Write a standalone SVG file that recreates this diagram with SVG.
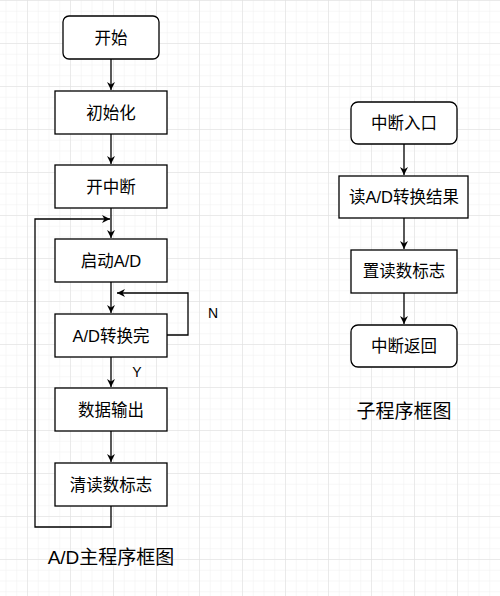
<svg xmlns="http://www.w3.org/2000/svg" width="500" height="596" viewBox="0 0 500 596">
<style>
.box{fill:#fff;stroke:#000;stroke-width:1.3}
.t{font-family:"Liberation Sans","Noto Sans CJK SC",sans-serif;font-size:16.5px;fill:#000;text-anchor:middle;dominant-baseline:central}
.cap{font-family:"Liberation Sans","Noto Sans CJK SC",sans-serif;font-size:19px;fill:#000;text-anchor:middle;dominant-baseline:central}
.lbl{font-family:"Liberation Sans","Noto Sans CJK SC",sans-serif;font-size:14px;fill:#000;text-anchor:middle;dominant-baseline:central}
.c{fill:none;stroke:#000;stroke-width:1.3}
</style>
<defs>
<pattern id="minor" patternUnits="userSpaceOnUse" x="27" y="0" width="10.75" height="10.75">
<path d="M0 0H10.75M0 0V10.75" fill="none" stroke="#f0f0f0" stroke-width="1"/>
</pattern>
<pattern id="major" patternUnits="userSpaceOnUse" x="27" y="0" width="43" height="43">
<path d="M0 0H43M0 0V43" fill="none" stroke="#dedede" stroke-width="1"/>
</pattern>
<marker id="arr" viewBox="0 0 10 10" refX="10" refY="5" markerWidth="8" markerHeight="8" markerUnits="userSpaceOnUse" orient="auto">
<path d="M0 0L10 5L0 10L3 5Z" fill="#000"/>
</marker>
</defs>
<rect width="500" height="596" fill="#fff"/>
<rect width="500" height="596" fill="url(#minor)"/>
<rect width="500" height="596" fill="url(#major)"/>

<g id="connectors">
<path class="c" d="M111 59V90" marker-end="url(#arr)"/>
<path class="c" d="M111 134V164" marker-end="url(#arr)"/>
<path class="c" d="M111 208V238" marker-end="url(#arr)"/>
<path class="c" d="M111 282V313" marker-end="url(#arr)"/>
<path class="c" d="M167 335H188V293H117" marker-end="url(#arr)"/>
<path class="c" d="M111 357V387" marker-end="url(#arr)"/>
<path class="c" d="M111 431V462" marker-end="url(#arr)"/>
<path class="c" d="M111 506V527H35V219H110" marker-end="url(#arr)"/>
<path class="c" d="M404 144V175" marker-end="url(#arr)"/>
<path class="c" d="M404 218V249" marker-end="url(#arr)"/>
<path class="c" d="M404 293V324" marker-end="url(#arr)"/>
<text class="lbl" x="213" y="313">N</text>
<text class="lbl" x="137" y="372">Y</text>
</g>

<g id="start"><rect class="box" x="63" y="16" width="96" height="43" rx="6"/><text class="t" x="111" y="38">开始</text></g>
<g id="init"><rect class="box" x="55" y="91" width="112" height="43"/><text class="t" x="111" y="113">初始化</text></g>
<g id="enable-int"><rect class="box" x="55" y="165" width="112" height="43"/><text class="t" x="111" y="187">开中断</text></g>
<g id="start-ad"><rect class="box" x="55" y="239" width="112" height="43"/><text class="t" x="111" y="261">启动A/D</text></g>
<g id="ad-done"><rect class="box" x="55" y="314" width="112" height="43"/><text class="t" x="111" y="336">A/D转换完</text></g>
<g id="output"><rect class="box" x="55" y="388" width="112" height="43"/><text class="t" x="111" y="410">数据输出</text></g>
<g id="clear-flag"><rect class="box" x="55" y="463" width="112" height="43"/><text class="t" x="111" y="485">清读数标志</text></g>
<text class="cap" x="111" y="557">A/D主程序框图</text>

<g id="int-entry"><rect class="box" x="351" y="102" width="106" height="42" rx="7"/><text class="t" x="404" y="123">中断入口</text></g>
<g id="read-ad"><rect class="box" x="339" y="176" width="129" height="42"/><text class="t" x="404" y="197">读A/D转换结果</text></g>
<g id="set-flag"><rect class="box" x="351" y="250" width="106" height="43"/><text class="t" x="404" y="271">置读数标志</text></g>
<g id="int-return"><rect class="box" x="351" y="325" width="106" height="42" rx="7"/><text class="t" x="404" y="346">中断返回</text></g>
<text class="cap" x="404" y="411">子程序框图</text>
</svg>
